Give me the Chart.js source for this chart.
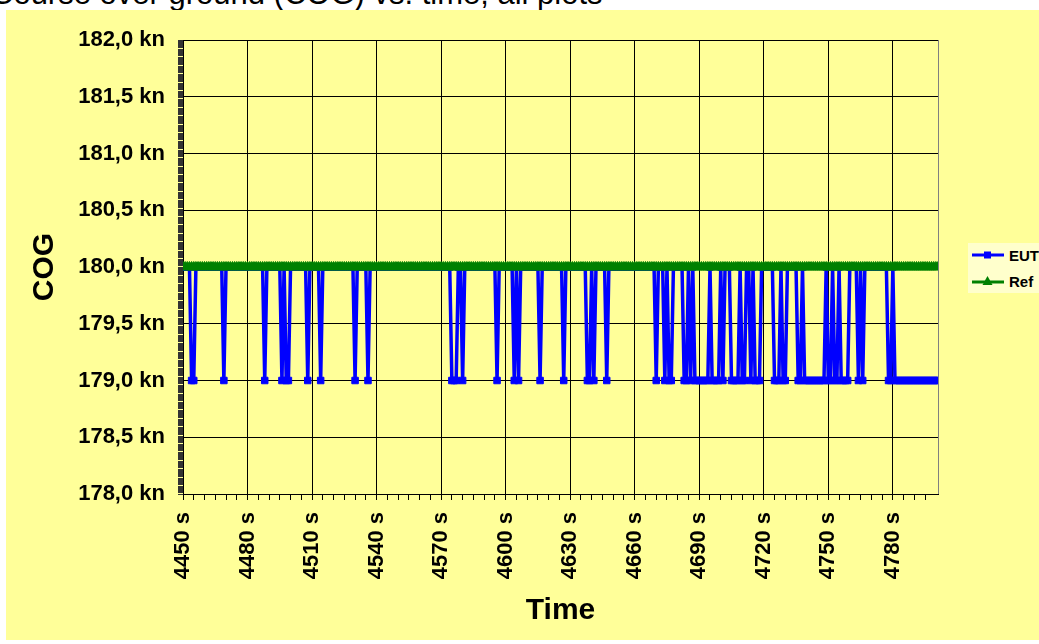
<!DOCTYPE html>
<html>
<head>
<meta charset="utf-8">
<script src="https://cdn.jsdelivr.net/npm/chart.js@4.4.1/dist/chart.umd.min.js"></script>
<style>
  html, body { margin: 0; padding: 0; background: #fff; overflow: hidden; }
  .frame { position: relative; width: 1039px; height: 644px; overflow: hidden; }
  .chart-title { position: absolute; left: -9px; top: 0; width: 1100px; height: 10px; overflow: hidden; }
  .chart-title span { position: absolute; left: 0; top: -22px; font: 31px Arial, "Liberation Sans", sans-serif; line-height: 32px; white-space: nowrap; color: #000; }
  .panel { position: absolute; left: 6px; top: 10px; width: 1033px; height: 630px; background: #ffff99; }
  canvas { position: absolute; left: 0; top: 0; }
  .legend { position: absolute; left: 968px; top: 243px; width: 90px; height: 50px; background: #ffffcc; }
  .legend .row { position: absolute; left: 3px; height: 20px; display: flex; align-items: center; font: bold 15px Arial, "Liberation Sans", sans-serif; color: #000; }
  .legend svg { margin-right: 4px; }
</style>
</head>
<body>
<div class="frame">
  <div class="panel"></div>
  <div class="chart-title"><span>Course over ground (COG) vs. time, all plots</span></div>
  <canvas id="cog" width="1039" height="644"></canvas>
  <div class="legend">
    <div class="row" style="top: 2px;">
      <svg width="34" height="12"><line x1="1" y1="6" x2="33" y2="6" stroke="#0000ff" stroke-width="3"/><rect x="13" y="2.5" width="7" height="7" fill="#0000ff"/></svg><span>EUT</span>
    </div>
    <div class="row" style="top: 28px;">
      <svg width="34" height="12"><line x1="1" y1="7" x2="33" y2="7" stroke="#008000" stroke-width="3"/><polygon points="16.5,1 21.5,10 11.5,10" fill="#008000"/></svg><span>Ref</span>
    </div>
  </div>
</div>
<script>
// time axis, one sample per second
const timeStart = 4450;
const timeEnd = 4801;

// EUT reads 180 kn except in these [from, to] second ranges where it reads 179 kn
const eutLowRuns = [
  [4454, 4455], [4469, 4469], [4488, 4488], [4496, 4496], [4498, 4499], [4508, 4508],
  [4514, 4514], [4530, 4530], [4536, 4536],
  [4575, 4577], [4580, 4580], [4596, 4596], [4604, 4604], [4606, 4606], [4616, 4616],
  [4627, 4627], [4638, 4639], [4641, 4641], [4647, 4647],
  [4670, 4670], [4674, 4674], [4676, 4677],
  [4683, 4684], [4686, 4686], [4688, 4694], [4696, 4699], [4701, 4701],
  [4705, 4708], [4710, 4711], [4714, 4714], [4716, 4718],
  [4725, 4727], [4729, 4730],
  [4736, 4737], [4739, 4748], [4750, 4751], [4753, 4754], [4756, 4759],
  [4764, 4764], [4766, 4766],
  [4778, 4779], [4781, 4801],
];
const eutHigh = 180;
const eutLow = 179;
const refValue = 180;

const yMin = 178;
const yMax = 182;
const yMajor = 0.5;
const xLabelEvery = 30;

const fontFamily = 'Arial, "Liberation Sans", sans-serif';

const times = [];
for (let t = timeStart; t <= timeEnd; t++) times.push(t);
const isLow = (t) => eutLowRuns.some(([a, b]) => t >= a && t <= b);
const eutData = times.map((t) => ({ x: t, y: isLow(t) ? eutLow : eutHigh }));
const refData = times.map((t) => ({ x: t, y: refValue }));

const isMajorY = (v) => Math.abs(v / yMajor - Math.round(v / yMajor)) < 1e-6;
const isMajorX = (v) => (v - timeStart) % xLabelEvery === 0;

const ctx = document.getElementById("cog").getContext("2d");

new Chart(ctx, {
  type: "line",
  data: {
    datasets: [
      {
        label: "EUT",
        data: eutData,
        borderColor: "#0000ff",
        backgroundColor: "#0000ff",
        borderWidth: 3.5,
        pointStyle: "rect",
        pointRadius: 4.6,
        pointBorderWidth: 1,
        order: 1,
      },
      {
        label: "Ref",
        data: refData,
        borderColor: "#008000",
        backgroundColor: "#008000",
        borderWidth: 4,
        pointStyle: "triangle",
        pointRadius: 5.5,
        pointBorderWidth: 1,
        order: 0,
      },
    ],
  },
  options: {
    responsive: false,
    animation: false,
    events: [],
    layout: { padding: { left: 0, top: 40, right: 101, bottom: 0 } },
    plugins: { legend: { display: false }, tooltip: { enabled: false } },
    scales: {
      x: {
        type: "linear",
        min: timeStart,
        max: timeEnd,
        afterFit: (s) => { s.height = 150; },
        ticks: {
          stepSize: 5,
          autoSkip: false,
          minRotation: 90,
          maxRotation: 90,
          padding: 12,
          color: "#000",
          font: { family: fontFamily, size: 22, weight: "bold" },
          callback: (v) => (isMajorX(v) ? v + " s" : ""),
        },
        grid: {
          color: (c) => (c.tick && isMajorX(c.tick.value) ? "#000" : c.tick && c.tick.value === timeEnd ? "#808080" : "rgba(0,0,0,0)"),
          tickColor: (c) => (c.tick && c.tick.value % 5 === 0 ? "#000" : "rgba(0,0,0,0)"),
          tickLength: 6,
        },
        border: { color: "#000", width: 1 },
        title: {
          display: true,
          text: "Time",
          color: "#000",
          font: { family: fontFamily, size: 30, weight: "bold" },
          padding: { top: 0, bottom: 15 },
        },
      },
      y: {
        min: yMin,
        max: yMax,
        afterFit: (s) => { s.width = 183; },
        ticks: {
          stepSize: 0.01,
          autoSkip: false,
          padding: 13,
          color: "#000",
          font: { family: fontFamily, size: 22, weight: "bold" },
          callback: (v) => (isMajorY(v) ? v.toFixed(1).replace(".", ",") + " kn" : ""),
        },
        grid: {
          color: (c) => (c.tick && isMajorY(c.tick.value) ? "#000" : "rgba(0,0,0,0)"),
          tickColor: "#333",
          tickLength: 5,
        },
        border: { color: "#000", width: 1 },
        title: {
          display: true,
          text: "COG",
          color: "#000",
          font: { family: fontFamily, size: 30, weight: "bold" },
          padding: { top: 27, bottom: 0 },
        },
      },
    },
  },
});
</script>
</body>
</html>
